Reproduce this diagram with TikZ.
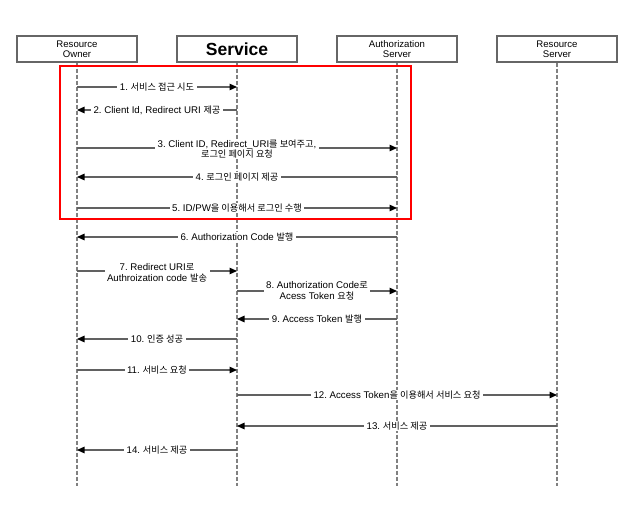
\documentclass[tikz,border=0pt]{standalone}
\usepackage{fontspec}
\setmainfont{Liberation Sans}
\newfontfamily\krfont{Noto Sans CJK KR}[Scale=0.95]
\usepackage{tikz}
\usetikzlibrary{calc}
\usetikzlibrary{arrows.meta}
\tikzset{>={Triangle[length=7.5pt,width=6.5pt,color=black]}}
\newcommand{\ko}[1]{{\krfont #1}}
\frenchspacing

\tikzset{
	actor/.style={draw=black!60, line width=1.3pt, fill=white, minimum width=120pt, minimum height=26pt, inner sep=0pt, align=center, font=\fontsize{9.6}{10}\selectfont},
	life/.style={draw=black!50, line width=1.9pt, dash pattern=on 4pt off 2pt},
	msg/.style={->, draw=black!62, line width=1.3pt},
	lbl/.style={fill=white, inner xsep=2.5pt, inner ysep=0.8pt, align=center, font=\fontsize{9.7}{10.6}\selectfont}
}

\begin{document}
\begin{tikzpicture}[x=1pt, y=-1pt]
	\useasboundingbox (0,0) rectangle (630,532);
	
	%% Participants
	\node[actor] (ro) at (77,49) {Resource\\Owner};
	\node[actor, font=\fontsize{17.5}{18}\selectfont\bfseries] (sv) at (237,49) {Service};
	\node[actor] (as) at (397,49) {Authorization\\Server};
	\node[actor] (rs) at (557,49) {Resource\\Server};
	
	\coordinate[](bot) at (0,486);
	
	% Lifelines
	\draw[life] (ro.south) -- (ro.south |- bot);
	\draw[life] (sv.south) -- (sv.south |- bot);
	\draw[life] (as.south) -- (as.south |- bot);
	\draw[life] (rs.south) -- (rs.south |- bot);
	
	% Rows
	\coordinate[](m1) at (0,87);
	\coordinate[](m2) at (0,110);
	\coordinate[](m3) at (0,148);
	\coordinate[](m4) at (0,177);
	\coordinate[](m5) at (0,208);
	\coordinate[](m6) at (0,237);
	\coordinate[](m7) at (0,271);
	\coordinate[](m8) at (0,291);
	\coordinate[](m9) at (0,319);
	\coordinate[](m10) at (0,339);
	\coordinate[](m11) at (0,370);
	\coordinate[](m12) at (0,395);
	\coordinate[](m13) at (0,426);
	\coordinate[](m14) at (0,450);
	
	%% Messages
	\draw[msg] (ro |- m1) -- (sv |- m1) node[lbl,midway] {1. \ko{서비스 접근 시도}};
	\draw[msg] (sv |- m2) -- (ro |- m2) node[lbl,midway] {2. Client Id, Redirect URI \ko{제공}};
	\draw[msg] (ro |- m3) -- (as |- m3) node[lbl,midway,yshift=-1pt] {3. Client ID, Redirect\_URI\ko{를 보여주고},\\\ko{로그인 페이지 요청}};
	\draw[msg] (as |- m4) -- (ro |- m4) node[lbl,midway] {4. \ko{로그인 페이지 제공}};
	\draw[msg] (ro |- m5) -- (as |- m5) node[lbl,midway] {5. ID/PW\ko{을 이용해서 로그인 수행}};
	\draw[msg] (as |- m6) -- (ro |- m6) node[lbl,midway] {6. Authorization Code \ko{발행}};
	\draw[msg] (ro |- m7) -- (sv |- m7) node[lbl,midway,yshift=-2pt] {7. Redirect URI\ko{로}\\Authroization code \ko{발송}};
	\draw[msg] (sv |- m8) -- (as |- m8) node[lbl,midway] {8. Authorization Code\ko{로}\\Acess Token \ko{요청}};
	\draw[msg] (as |- m9) -- (sv |- m9) node[lbl,midway] {9. Access Token \ko{발행}};
	\draw[msg] (sv |- m10) -- (ro |- m10) node[lbl,midway] {10. \ko{인증 성공}};
	\draw[msg] (ro |- m11) -- (sv |- m11) node[lbl,midway] {11. \ko{서비스 요청}};
	\draw[msg] (sv |- m12) -- (rs |- m12) node[lbl,midway] {12. Access Token\ko{을 이용해서 서비스 요청}};
	\draw[msg] (rs |- m13) -- (sv |- m13) node[lbl,midway] {13. \ko{서비스 제공}};
	\draw[msg] (sv |- m14) -- (ro |- m14) node[lbl,midway] {14. \ko{서비스 제공}};
	
	%% Highlight
	\draw[red, line width=2pt] (60,66) rectangle (411,219);
	
\end{tikzpicture}
\end{document}
